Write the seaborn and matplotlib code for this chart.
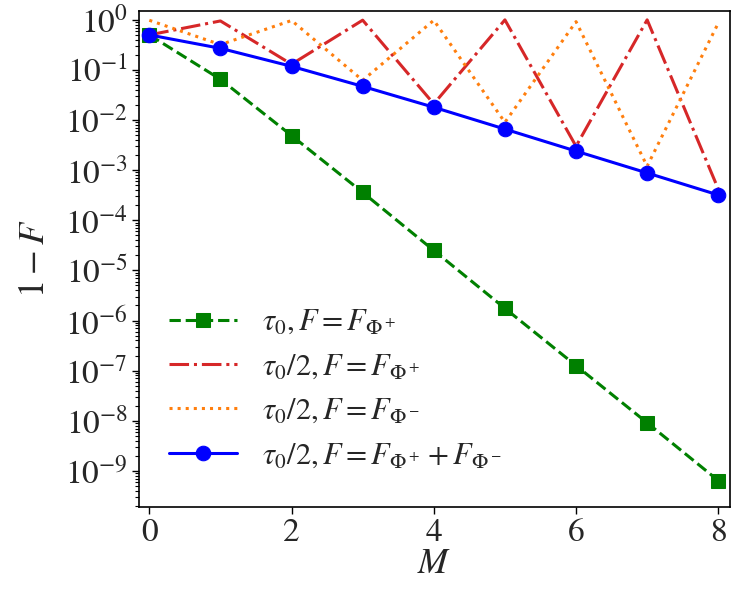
import numpy as np
import pandas as pd
import matplotlib
matplotlib.use("Agg")
import matplotlib.pyplot as plt
import matplotlib.ticker as mticker
import seaborn as sns

M = [0, 1, 2, 3, 4, 5, 6, 7, 8]
green_tau0 = [0.5, 0.065, 0.0049, 3.6e-4, 2.5e-5, 1.75e-6, 1.26e-7, 9.1e-9, 6.4e-10]
red_half_plus = [0.5, 0.95, 0.13, 0.985, 0.021, 0.998, 0.003, 0.999, 4.2e-4]
orange_half_minus = [0.98, 0.32, 0.97, 0.062, 0.98, 0.009, 0.92, 0.0012, 0.86]
blue_half_sum = [0.5, 0.27, 0.118, 0.047, 0.018, 0.0066, 0.0024, 8.8e-4, 3.2e-4]

labels = [
    r"$\tau_0, F = F_{\Phi^+}$",
    r"$\tau_0/2, F = F_{\Phi^+}$",
    r"$\tau_0/2, F = F_{\Phi^-}$",
    r"$\tau_0/2, F = F_{\Phi^+} + F_{\Phi^-}$",
]

sns.set_theme(style="ticks")
plt.rcParams["font.family"] = ["STIXGeneral", "DejaVu Serif"]
plt.rcParams["mathtext.fontset"] = "stix"
plt.rcParams["xtick.direction"] = "out"
plt.rcParams["ytick.direction"] = "out"

fig = plt.figure(figsize=(7.47, 5.98), dpi=100)
ax = fig.add_axes([139 / 747, 1 - 507 / 598, (730 - 139) / 747, (507 - 11) / 598])

sns.lineplot(x=M, y=green_tau0, ax=ax, color="green", linestyle="--", marker="s",
             markersize=10.5, markeredgecolor="green", linewidth=2.2, label=labels[0])
sns.lineplot(x=M, y=red_half_plus, ax=ax, color="tab:red", linestyle="-.",
             linewidth=2.2, label=labels[1])
sns.lineplot(x=M, y=orange_half_minus, ax=ax, color="tab:orange", linestyle=":",
             linewidth=2.2, label=labels[2])
sns.lineplot(x=M, y=blue_half_sum, ax=ax, color="blue", linestyle="-", marker="o",
             markersize=10.5, markeredgecolor="blue", linewidth=2.2, label=labels[3])

ax.set_yscale("log")
ax.set_ylim(1.9e-10, 1.5)
ax.set_xlim(-0.145, 8.165)
ax.set_xticks([0, 2, 4, 6, 8])
ax.yaxis.set_major_locator(mticker.LogLocator(base=10, numticks=20))
ax.yaxis.set_minor_locator(mticker.LogLocator(base=10, subs=np.arange(2, 10), numticks=20))
ax.yaxis.set_minor_formatter(mticker.NullFormatter())
ax.tick_params(axis="both", which="major", labelsize=24, length=5, width=1, color="black", pad=3)
ax.tick_params(axis="y", which="minor", length=3, width=0.8, color="black")
for s in ax.spines.values():
    s.set_color("black")
    s.set_linewidth(1.2)

ax.set_xlabel(r"$M$", fontsize=26, labelpad=0)
ax.set_ylabel(r"$1-F$", fontsize=26, labelpad=9)

ax.legend(loc="lower left", frameon=False, fontsize=22, handlelength=2.25,
          labelspacing=0.52, borderaxespad=0.8, handletextpad=0.8,
          bbox_to_anchor=(-0.012, 0.0))

fig.savefig("out.png", dpi=100)
